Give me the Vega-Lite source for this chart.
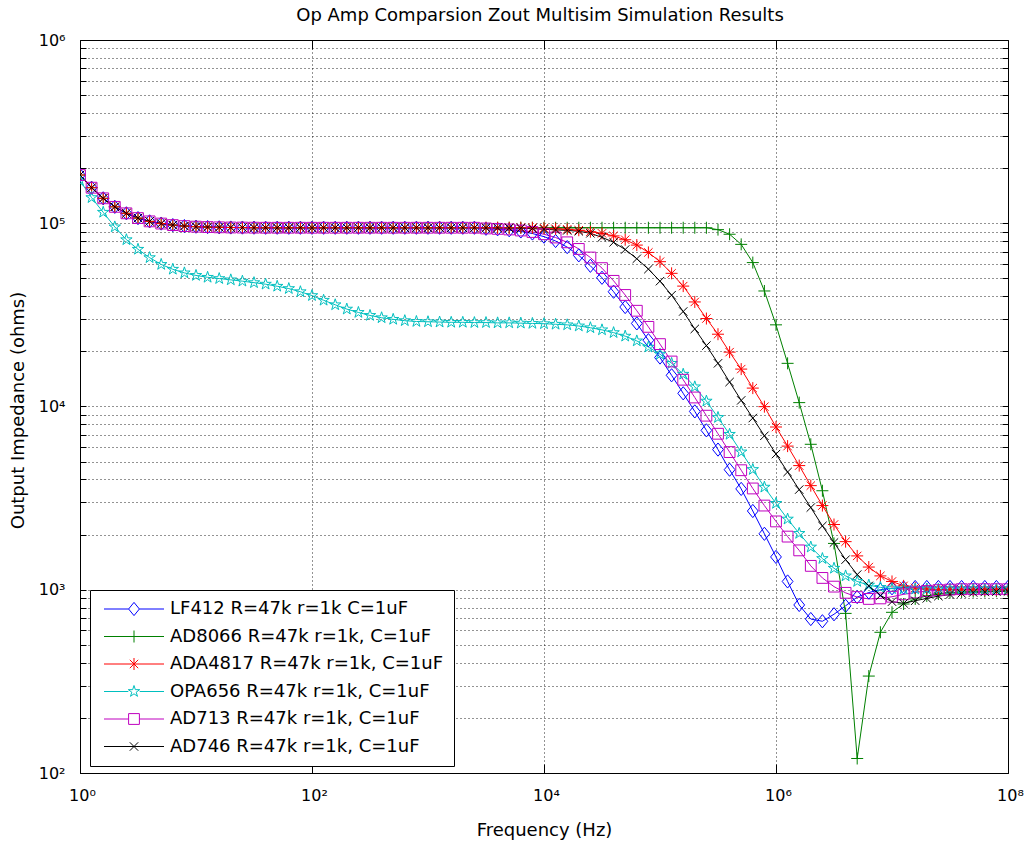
{
"$schema": "https://vega.github.io/schema/vega-lite/v6.json",
"width": 928, "height": 733,
"autosize": {"type": "none"},
"padding": {"left": 80, "top": 40, "right": 18, "bottom": 73},
"background": "#ffffff",
"title": {"text": "Op Amp Comparsion Zout Multisim Simulation Results", "font": "DejaVu Sans", "fontSize": 18, "fontWeight": "normal", "color": "#000000", "anchor": "middle", "frame": "group", "baseline": "alphabetic", "offset": 17, "dx": -4, "dy": 24},
"config": {"view": {"stroke": null}},
"data": {"values": [
{"s":"LF412","f":1,"z":183300},{"s":"LF412","f":1.259,"z":156300},{"s":"LF412","f":1.585,"z":136800},{"s":"LF412","f":1.995,"z":122900},{"s":"LF412","f":2.512,"z":113300},{"s":"LF412","f":3.162,"z":106700},{"s":"LF412","f":3.981,"z":102400},{"s":"LF412","f":5.012,"z":99600},{"s":"LF412","f":6.31,"z":97700},{"s":"LF412","f":7.943,"z":96500},
{"s":"LF412","f":10,"z":95800},{"s":"LF412","f":12.59,"z":95300},{"s":"LF412","f":15.85,"z":95000},{"s":"LF412","f":19.95,"z":94800},{"s":"LF412","f":25.12,"z":94700},{"s":"LF412","f":31.62,"z":94600},{"s":"LF412","f":39.81,"z":94500},{"s":"LF412","f":50.12,"z":94500},{"s":"LF412","f":63.1,"z":94500},{"s":"LF412","f":79.43,"z":94500},
{"s":"LF412","f":100,"z":94500},{"s":"LF412","f":125.9,"z":94500},{"s":"LF412","f":158.5,"z":94500},{"s":"LF412","f":199.5,"z":94500},{"s":"LF412","f":251.2,"z":94500},{"s":"LF412","f":316.2,"z":94500},{"s":"LF412","f":398.1,"z":94500},{"s":"LF412","f":501.2,"z":94500},{"s":"LF412","f":631,"z":94500},{"s":"LF412","f":794.3,"z":94500},
{"s":"LF412","f":1000,"z":94500},{"s":"LF412","f":1259,"z":94500},{"s":"LF412","f":1585,"z":94500},{"s":"LF412","f":1995,"z":94500},{"s":"LF412","f":2512,"z":94500},{"s":"LF412","f":3162,"z":93300},{"s":"LF412","f":3981,"z":92700},{"s":"LF412","f":5012,"z":91600},{"s":"LF412","f":6310,"z":90200},{"s":"LF412","f":7943,"z":87900},
{"s":"LF412","f":10000,"z":84500},{"s":"LF412","f":12590,"z":80000},{"s":"LF412","f":15850,"z":74100},{"s":"LF412","f":19950,"z":66800},{"s":"LF412","f":25120,"z":58600},{"s":"LF412","f":31620,"z":50400},{"s":"LF412","f":39810,"z":42300},{"s":"LF412","f":50120,"z":34900},{"s":"LF412","f":63100,"z":28400},{"s":"LF412","f":79430,"z":23000},
{"s":"LF412","f":100000,"z":18500},{"s":"LF412","f":125900,"z":14800},{"s":"LF412","f":158500,"z":11800},{"s":"LF412","f":199500,"z":9400},{"s":"LF412","f":251200,"z":7410},{"s":"LF412","f":316200,"z":5820},{"s":"LF412","f":398100,"z":4520},{"s":"LF412","f":501200,"z":3550},{"s":"LF412","f":631000,"z":2690},{"s":"LF412","f":794300,"z":2020},
{"s":"LF412","f":1000000,"z":1510},{"s":"LF412","f":1259000,"z":1110},{"s":"LF412","f":1585000,"z":826},{"s":"LF412","f":1995000,"z":692},{"s":"LF412","f":2512000,"z":673},{"s":"LF412","f":3162000,"z":735},{"s":"LF412","f":3981000,"z":817},{"s":"LF412","f":5012000,"z":912},{"s":"LF412","f":6310000,"z":966},{"s":"LF412","f":7943000,"z":1000},
{"s":"LF412","f":10000000,"z":1019},{"s":"LF412","f":12590000,"z":1028},{"s":"LF412","f":15850000,"z":1035},{"s":"LF412","f":19950000,"z":1035},{"s":"LF412","f":25120000,"z":1035},{"s":"LF412","f":31620000,"z":1035},{"s":"LF412","f":39810000,"z":1035},{"s":"LF412","f":50120000,"z":1035},{"s":"LF412","f":63100000,"z":1035},{"s":"LF412","f":79430000,"z":1035},{"s":"LF412","f":100000000,"z":1035},

{"s":"AD8066","f":1,"z":183300},{"s":"AD8066","f":1.259,"z":156300},{"s":"AD8066","f":1.585,"z":136800},{"s":"AD8066","f":1.995,"z":122900},{"s":"AD8066","f":2.512,"z":113300},{"s":"AD8066","f":3.162,"z":106700},{"s":"AD8066","f":3.981,"z":102400},{"s":"AD8066","f":5.012,"z":99600},{"s":"AD8066","f":6.31,"z":97700},{"s":"AD8066","f":7.943,"z":96500},
{"s":"AD8066","f":10,"z":95800},{"s":"AD8066","f":12.59,"z":95300},{"s":"AD8066","f":15.85,"z":95000},{"s":"AD8066","f":19.95,"z":94800},{"s":"AD8066","f":25.12,"z":94700},{"s":"AD8066","f":31.62,"z":94600},{"s":"AD8066","f":39.81,"z":94500},{"s":"AD8066","f":50.12,"z":94500},{"s":"AD8066","f":63.1,"z":94500},{"s":"AD8066","f":79.43,"z":94500},
{"s":"AD8066","f":100,"z":94500},{"s":"AD8066","f":125.9,"z":94500},{"s":"AD8066","f":158.5,"z":94500},{"s":"AD8066","f":199.5,"z":94500},{"s":"AD8066","f":251.2,"z":94500},{"s":"AD8066","f":316.2,"z":94500},{"s":"AD8066","f":398.1,"z":94500},{"s":"AD8066","f":501.2,"z":94500},{"s":"AD8066","f":631,"z":94500},{"s":"AD8066","f":794.3,"z":94500},
{"s":"AD8066","f":1000,"z":94500},{"s":"AD8066","f":1259,"z":94500},{"s":"AD8066","f":1585,"z":94500},{"s":"AD8066","f":1995,"z":94500},{"s":"AD8066","f":2512,"z":94500},{"s":"AD8066","f":3162,"z":94500},{"s":"AD8066","f":3981,"z":94500},{"s":"AD8066","f":5012,"z":94500},{"s":"AD8066","f":6310,"z":94500},{"s":"AD8066","f":7943,"z":94500},
{"s":"AD8066","f":10000,"z":94500},{"s":"AD8066","f":12590,"z":94500},{"s":"AD8066","f":15850,"z":94500},{"s":"AD8066","f":19950,"z":94500},{"s":"AD8066","f":25120,"z":94500},{"s":"AD8066","f":31620,"z":94500},{"s":"AD8066","f":39810,"z":94500},{"s":"AD8066","f":50120,"z":94500},{"s":"AD8066","f":63100,"z":94500},{"s":"AD8066","f":79430,"z":94500},
{"s":"AD8066","f":100000,"z":94500},{"s":"AD8066","f":125900,"z":94500},{"s":"AD8066","f":158500,"z":94500},{"s":"AD8066","f":199500,"z":94500},{"s":"AD8066","f":251200,"z":94500},{"s":"AD8066","f":316200,"z":92300},{"s":"AD8066","f":398100,"z":87100},{"s":"AD8066","f":501200,"z":76700},{"s":"AD8066","f":631000,"z":61000},{"s":"AD8066","f":794300,"z":42700},
{"s":"AD8066","f":1000000,"z":27900},{"s":"AD8066","f":1259000,"z":17200},{"s":"AD8066","f":1585000,"z":10500},{"s":"AD8066","f":1995000,"z":6220},{"s":"AD8066","f":2512000,"z":3470},{"s":"AD8066","f":3162000,"z":1790},{"s":"AD8066","f":3981000,"z":743},{"s":"AD8066","f":5012000,"z":120},{"s":"AD8066","f":6310000,"z":338},{"s":"AD8066","f":7943000,"z":586},
{"s":"AD8066","f":10000000,"z":753},{"s":"AD8066","f":12590000,"z":836},{"s":"AD8066","f":15850000,"z":891},{"s":"AD8066","f":19950000,"z":925},{"s":"AD8066","f":25120000,"z":948},{"s":"AD8066","f":31620000,"z":964},{"s":"AD8066","f":39810000,"z":973},{"s":"AD8066","f":50120000,"z":977},{"s":"AD8066","f":63100000,"z":979},{"s":"AD8066","f":79430000,"z":982},{"s":"AD8066","f":100000000,"z":982},

{"s":"ADA4817","f":1,"z":183300},{"s":"ADA4817","f":1.259,"z":156300},{"s":"ADA4817","f":1.585,"z":136800},{"s":"ADA4817","f":1.995,"z":122900},{"s":"ADA4817","f":2.512,"z":113300},{"s":"ADA4817","f":3.162,"z":106700},{"s":"ADA4817","f":3.981,"z":102400},{"s":"ADA4817","f":5.012,"z":99600},{"s":"ADA4817","f":6.31,"z":97700},{"s":"ADA4817","f":7.943,"z":96500},
{"s":"ADA4817","f":10,"z":95800},{"s":"ADA4817","f":12.59,"z":95300},{"s":"ADA4817","f":15.85,"z":95000},{"s":"ADA4817","f":19.95,"z":94800},{"s":"ADA4817","f":25.12,"z":94700},{"s":"ADA4817","f":31.62,"z":94600},{"s":"ADA4817","f":39.81,"z":94500},{"s":"ADA4817","f":50.12,"z":94500},{"s":"ADA4817","f":63.1,"z":94500},{"s":"ADA4817","f":79.43,"z":94500},
{"s":"ADA4817","f":100,"z":94500},{"s":"ADA4817","f":125.9,"z":94500},{"s":"ADA4817","f":158.5,"z":94500},{"s":"ADA4817","f":199.5,"z":94500},{"s":"ADA4817","f":251.2,"z":94500},{"s":"ADA4817","f":316.2,"z":94500},{"s":"ADA4817","f":398.1,"z":94500},{"s":"ADA4817","f":501.2,"z":94500},{"s":"ADA4817","f":631,"z":94500},{"s":"ADA4817","f":794.3,"z":94500},
{"s":"ADA4817","f":1000,"z":94500},{"s":"ADA4817","f":1259,"z":94500},{"s":"ADA4817","f":1585,"z":94500},{"s":"ADA4817","f":1995,"z":94500},{"s":"ADA4817","f":2512,"z":94500},{"s":"ADA4817","f":3162,"z":94500},{"s":"ADA4817","f":3981,"z":94500},{"s":"ADA4817","f":5012,"z":94500},{"s":"ADA4817","f":6310,"z":94500},{"s":"ADA4817","f":7943,"z":94500},
{"s":"ADA4817","f":10000,"z":94000},{"s":"ADA4817","f":12590,"z":93300},{"s":"ADA4817","f":15850,"z":92700},{"s":"ADA4817","f":19950,"z":91600},{"s":"ADA4817","f":25120,"z":89900},{"s":"ADA4817","f":31620,"z":88100},{"s":"ADA4817","f":39810,"z":85300},{"s":"ADA4817","f":50120,"z":81300},{"s":"ADA4817","f":63100,"z":76000},{"s":"ADA4817","f":79430,"z":69300},
{"s":"ADA4817","f":100000,"z":61700},{"s":"ADA4817","f":125900,"z":53300},{"s":"ADA4817","f":158500,"z":45400},{"s":"ADA4817","f":199500,"z":37200},{"s":"ADA4817","f":251200,"z":30200},{"s":"ADA4817","f":316200,"z":24800},{"s":"ADA4817","f":398100,"z":19800},{"s":"ADA4817","f":501200,"z":16000},{"s":"ADA4817","f":631000,"z":12600},{"s":"ADA4817","f":794300,"z":9980},
{"s":"ADA4817","f":1000000,"z":7730},{"s":"ADA4817","f":1259000,"z":6080},{"s":"ADA4817","f":1585000,"z":4760},{"s":"ADA4817","f":1995000,"z":3700},{"s":"ADA4817","f":2512000,"z":2880},{"s":"ADA4817","f":3162000,"z":2270},{"s":"ADA4817","f":3981000,"z":1830},{"s":"ADA4817","f":5012000,"z":1530},{"s":"ADA4817","f":6310000,"z":1330},{"s":"ADA4817","f":7943000,"z":1190},
{"s":"ADA4817","f":10000000,"z":1110},{"s":"ADA4817","f":12590000,"z":1050},{"s":"ADA4817","f":15850000,"z":1023},{"s":"ADA4817","f":19950000,"z":1009},{"s":"ADA4817","f":25120000,"z":1002},{"s":"ADA4817","f":31620000,"z":1000},{"s":"ADA4817","f":39810000,"z":1000},{"s":"ADA4817","f":50120000,"z":1000},{"s":"ADA4817","f":63100000,"z":1000},{"s":"ADA4817","f":79430000,"z":1000},{"s":"ADA4817","f":100000000,"z":1000},

{"s":"OPA656","f":1,"z":170600},{"s":"OPA656","f":1.259,"z":138000},{"s":"OPA656","f":1.585,"z":114800},{"s":"OPA656","f":1.995,"z":95500},{"s":"OPA656","f":2.512,"z":81300},{"s":"OPA656","f":3.162,"z":72100},{"s":"OPA656","f":3.981,"z":64900},{"s":"OPA656","f":5.012,"z":59600},{"s":"OPA656","f":6.31,"z":56100},{"s":"OPA656","f":7.943,"z":53600},
{"s":"OPA656","f":10,"z":51900},{"s":"OPA656","f":12.59,"z":50700},{"s":"OPA656","f":15.85,"z":49900},{"s":"OPA656","f":19.95,"z":49100},{"s":"OPA656","f":25.12,"z":48300},{"s":"OPA656","f":31.62,"z":47400},{"s":"OPA656","f":39.81,"z":46500},{"s":"OPA656","f":50.12,"z":45300},{"s":"OPA656","f":63.1,"z":44000},{"s":"OPA656","f":79.43,"z":42300},
{"s":"OPA656","f":100,"z":40300},{"s":"OPA656","f":125.9,"z":38000},{"s":"OPA656","f":158.5,"z":35900},{"s":"OPA656","f":199.5,"z":34000},{"s":"OPA656","f":251.2,"z":32600},{"s":"OPA656","f":316.2,"z":31400},{"s":"OPA656","f":398.1,"z":30500},{"s":"OPA656","f":501.2,"z":29900},{"s":"OPA656","f":631,"z":29400},{"s":"OPA656","f":794.3,"z":29100},
{"s":"OPA656","f":1000,"z":29000},{"s":"OPA656","f":1259,"z":28900},{"s":"OPA656","f":1585,"z":28800},{"s":"OPA656","f":1995,"z":28800},{"s":"OPA656","f":2512,"z":28700},{"s":"OPA656","f":3162,"z":28700},{"s":"OPA656","f":3981,"z":28600},{"s":"OPA656","f":5012,"z":28600},{"s":"OPA656","f":6310,"z":28500},{"s":"OPA656","f":7943,"z":28400},
{"s":"OPA656","f":10000,"z":28300},{"s":"OPA656","f":12590,"z":28100},{"s":"OPA656","f":15850,"z":27900},{"s":"OPA656","f":19950,"z":27500},{"s":"OPA656","f":25120,"z":26900},{"s":"OPA656","f":31620,"z":26200},{"s":"OPA656","f":39810,"z":25300},{"s":"OPA656","f":50120,"z":24200},{"s":"OPA656","f":63100,"z":22800},{"s":"OPA656","f":79430,"z":21100},
{"s":"OPA656","f":100000,"z":19300},{"s":"OPA656","f":125900,"z":17200},{"s":"OPA656","f":158500,"z":15000},{"s":"OPA656","f":199500,"z":12800},{"s":"OPA656","f":251200,"z":10700},{"s":"OPA656","f":316200,"z":8710},{"s":"OPA656","f":398100,"z":7050},{"s":"OPA656","f":501200,"z":5650},{"s":"OPA656","f":631000,"z":4530},{"s":"OPA656","f":794300,"z":3630},
{"s":"OPA656","f":1000000,"z":2960},{"s":"OPA656","f":1259000,"z":2430},{"s":"OPA656","f":1585000,"z":2030},{"s":"OPA656","f":1995000,"z":1710},{"s":"OPA656","f":2512000,"z":1480},{"s":"OPA656","f":3162000,"z":1310},{"s":"OPA656","f":3981000,"z":1190},{"s":"OPA656","f":5012000,"z":1110},{"s":"OPA656","f":6310000,"z":1060},{"s":"OPA656","f":7943000,"z":1030},
{"s":"OPA656","f":10000000,"z":1014},{"s":"OPA656","f":12590000,"z":1009},{"s":"OPA656","f":15850000,"z":1009},{"s":"OPA656","f":19950000,"z":1009},{"s":"OPA656","f":25120000,"z":1009},{"s":"OPA656","f":31620000,"z":1009},{"s":"OPA656","f":39810000,"z":1009},{"s":"OPA656","f":50120000,"z":1009},{"s":"OPA656","f":63100000,"z":1009},{"s":"OPA656","f":79430000,"z":1009},{"s":"OPA656","f":100000000,"z":1009},

{"s":"AD713","f":1,"z":183300},{"s":"AD713","f":1.259,"z":156300},{"s":"AD713","f":1.585,"z":136800},{"s":"AD713","f":1.995,"z":122900},{"s":"AD713","f":2.512,"z":113300},{"s":"AD713","f":3.162,"z":106700},{"s":"AD713","f":3.981,"z":102400},{"s":"AD713","f":5.012,"z":99600},{"s":"AD713","f":6.31,"z":97700},{"s":"AD713","f":7.943,"z":96500},
{"s":"AD713","f":10,"z":95800},{"s":"AD713","f":12.59,"z":95300},{"s":"AD713","f":15.85,"z":95000},{"s":"AD713","f":19.95,"z":94800},{"s":"AD713","f":25.12,"z":94700},{"s":"AD713","f":31.62,"z":94600},{"s":"AD713","f":39.81,"z":94500},{"s":"AD713","f":50.12,"z":94500},{"s":"AD713","f":63.1,"z":94500},{"s":"AD713","f":79.43,"z":94500},
{"s":"AD713","f":100,"z":94500},{"s":"AD713","f":125.9,"z":94500},{"s":"AD713","f":158.5,"z":94500},{"s":"AD713","f":199.5,"z":94500},{"s":"AD713","f":251.2,"z":94500},{"s":"AD713","f":316.2,"z":94500},{"s":"AD713","f":398.1,"z":94500},{"s":"AD713","f":501.2,"z":94500},{"s":"AD713","f":631,"z":94500},{"s":"AD713","f":794.3,"z":94500},
{"s":"AD713","f":1000,"z":94500},{"s":"AD713","f":1259,"z":94500},{"s":"AD713","f":1585,"z":94500},{"s":"AD713","f":1995,"z":94500},{"s":"AD713","f":2512,"z":94500},{"s":"AD713","f":3162,"z":93700},{"s":"AD713","f":3981,"z":93200},{"s":"AD713","f":5012,"z":92500},{"s":"AD713","f":6310,"z":91300},{"s":"AD713","f":7943,"z":89600},
{"s":"AD713","f":10000,"z":87100},{"s":"AD713","f":12590,"z":83600},{"s":"AD713","f":15850,"z":78700},{"s":"AD713","f":19950,"z":72400},{"s":"AD713","f":25120,"z":65000},{"s":"AD713","f":31620,"z":56900},{"s":"AD713","f":39810,"z":48500},{"s":"AD713","f":50120,"z":40600},{"s":"AD713","f":63100,"z":33300},{"s":"AD713","f":79430,"z":27200},
{"s":"AD713","f":100000,"z":21900},{"s":"AD713","f":125900,"z":17600},{"s":"AD713","f":158500,"z":14000},{"s":"AD713","f":199500,"z":11200},{"s":"AD713","f":251200,"z":8910},{"s":"AD713","f":316200,"z":7100},{"s":"AD713","f":398100,"z":5640},{"s":"AD713","f":501200,"z":4490},{"s":"AD713","f":631000,"z":3570},{"s":"AD713","f":794300,"z":2880},
{"s":"AD713","f":1000000,"z":2360},{"s":"AD713","f":1259000,"z":1950},{"s":"AD713","f":1585000,"z":1640},{"s":"AD713","f":1995000,"z":1350},{"s":"AD713","f":2512000,"z":1160},{"s":"AD713","f":3162000,"z":1040},{"s":"AD713","f":3981000,"z":962},{"s":"AD713","f":5012000,"z":912},{"s":"AD713","f":6310000,"z":891},{"s":"AD713","f":7943000,"z":897},
{"s":"AD713","f":10000000,"z":916},{"s":"AD713","f":12590000,"z":944},{"s":"AD713","f":15850000,"z":966},{"s":"AD713","f":19950000,"z":984},{"s":"AD713","f":25120000,"z":995},{"s":"AD713","f":31620000,"z":1002},{"s":"AD713","f":39810000,"z":1007},{"s":"AD713","f":50120000,"z":1007},{"s":"AD713","f":63100000,"z":1007},{"s":"AD713","f":79430000,"z":1007},{"s":"AD713","f":100000000,"z":1007},

{"s":"AD746","f":1,"z":183300},{"s":"AD746","f":1.259,"z":156300},{"s":"AD746","f":1.585,"z":136800},{"s":"AD746","f":1.995,"z":122900},{"s":"AD746","f":2.512,"z":113300},{"s":"AD746","f":3.162,"z":106700},{"s":"AD746","f":3.981,"z":102400},{"s":"AD746","f":5.012,"z":99600},{"s":"AD746","f":6.31,"z":97700},{"s":"AD746","f":7.943,"z":96500},
{"s":"AD746","f":10,"z":95800},{"s":"AD746","f":12.59,"z":95300},{"s":"AD746","f":15.85,"z":95000},{"s":"AD746","f":19.95,"z":94800},{"s":"AD746","f":25.12,"z":94700},{"s":"AD746","f":31.62,"z":94600},{"s":"AD746","f":39.81,"z":94500},{"s":"AD746","f":50.12,"z":94500},{"s":"AD746","f":63.1,"z":94500},{"s":"AD746","f":79.43,"z":94500},
{"s":"AD746","f":100,"z":94500},{"s":"AD746","f":125.9,"z":94500},{"s":"AD746","f":158.5,"z":94500},{"s":"AD746","f":199.5,"z":94500},{"s":"AD746","f":251.2,"z":94500},{"s":"AD746","f":316.2,"z":94500},{"s":"AD746","f":398.1,"z":94500},{"s":"AD746","f":501.2,"z":94500},{"s":"AD746","f":631,"z":94500},{"s":"AD746","f":794.3,"z":94500},
{"s":"AD746","f":1000,"z":94500},{"s":"AD746","f":1259,"z":94500},{"s":"AD746","f":1585,"z":94500},{"s":"AD746","f":1995,"z":94500},{"s":"AD746","f":2512,"z":94500},{"s":"AD746","f":3162,"z":94500},{"s":"AD746","f":3981,"z":94300},{"s":"AD746","f":5012,"z":94100},{"s":"AD746","f":6310,"z":93800},{"s":"AD746","f":7943,"z":93500},
{"s":"AD746","f":10000,"z":92700},{"s":"AD746","f":12590,"z":92000},{"s":"AD746","f":15850,"z":91400},{"s":"AD746","f":19950,"z":90400},{"s":"AD746","f":25120,"z":88100},{"s":"AD746","f":31620,"z":83800},{"s":"AD746","f":39810,"z":78700},{"s":"AD746","f":50120,"z":71900},{"s":"AD746","f":63100,"z":64000},{"s":"AD746","f":79430,"z":56200},
{"s":"AD746","f":100000,"z":48300},{"s":"AD746","f":125900,"z":40500},{"s":"AD746","f":158500,"z":33000},{"s":"AD746","f":199500,"z":26500},{"s":"AD746","f":251200,"z":21500},{"s":"AD746","f":316200,"z":17200},{"s":"AD746","f":398100,"z":13600},{"s":"AD746","f":501200,"z":10800},{"s":"AD746","f":631000,"z":8650},{"s":"AD746","f":794300,"z":6920},
{"s":"AD746","f":1000000,"z":5500},{"s":"AD746","f":1259000,"z":4390},{"s":"AD746","f":1585000,"z":3520},{"s":"AD746","f":1995000,"z":2810},{"s":"AD746","f":2512000,"z":2230},{"s":"AD746","f":3162000,"z":1810},{"s":"AD746","f":3981000,"z":1460},{"s":"AD746","f":5012000,"z":1210},{"s":"AD746","f":6310000,"z":1050},{"s":"AD746","f":7943000,"z":931},
{"s":"AD746","f":10000000,"z":861},{"s":"AD746","f":12590000,"z":843},{"s":"AD746","f":15850000,"z":871},{"s":"AD746","f":19950000,"z":897},{"s":"AD746","f":25120000,"z":923},{"s":"AD746","f":31620000,"z":942},{"s":"AD746","f":39810000,"z":955},{"s":"AD746","f":50120000,"z":966},{"s":"AD746","f":63100000,"z":973},{"s":"AD746","f":79430000,"z":977},{"s":"AD746","f":100000000,"z":979}
]},
"layer": [
{
"mark": {"type": "line", "strokeWidth": 1, "clip": true},
"encoding": {
"x": {"field": "f", "type": "quantitative", "scale": {"type": "log", "domain": [1, 100000000], "nice": false},
 "axis": {"orient": "bottom", "values": [1, 100, 10000, 1000000, 100000000],
  "labelExpr": "datum.value < 5 ? '10⁰' : datum.value < 500 ? '10²' : datum.value < 50000 ? '10⁴' : datum.value < 5000000 ? '10⁶' : '10⁸'",
  "labelFont": "DejaVu Sans", "labelFontSize": 16, "labelColor": "#000000", "labelPadding": 23, "labelOffset": 2, "labelOverlap": false, "labelFlush": false, "labelBound": false,
  "tickSize": -9, "tickColor": "#000000", "tickWidth": 1, "domainColor": "#000000", "domainWidth": 1,
  "grid": true, "gridColor": "#000000", "gridDash": [1, 3], "gridWidth": 1, "gridOpacity": 0.85,
  "title": "Frequency (Hz)", "titleFont": "DejaVu Sans", "titleFontSize": 18, "titleFontWeight": "normal", "titleColor": "#000000", "titleBaseline": "middle", "titleY": 57}},
"y": {"field": "z", "type": "quantitative", "scale": {"type": "log", "domain": [100, 1000000], "nice": false},
 "axis": {"orient": "left", "values": [100,200,300,400,500,600,700,800,900,1000,2000,3000,4000,5000,6000,7000,8000,9000,10000,20000,30000,40000,50000,60000,70000,80000,90000,100000,200000,300000,400000,500000,600000,700000,800000,900000,1000000],
  "labelExpr": "datum.value == 100 ? '10²' : datum.value == 1000 ? '10³' : datum.value == 10000 ? '10⁴' : datum.value == 100000 ? '10⁵' : datum.value == 1000000 ? '10⁶' : ''",
  "labelFont": "DejaVu Sans", "labelFontSize": 16, "labelColor": "#000000", "labelPadding": 21, "labelOverlap": false, "labelFlush": false, "labelBound": false,
  "tickSize": -6, "tickColor": "#000000", "tickWidth": 1, "domainColor": "#000000", "domainWidth": 1,
  "grid": true, "gridColor": "#000000", "gridDash": [1, 3], "gridWidth": 1, "gridOpacity": 0.85,
  "title": "Output Impedance (ohms)", "titleFont": "DejaVu Sans", "titleFontSize": 18, "titleFontWeight": "normal", "titleColor": "#000000", "titleBaseline": "middle", "titleX": -62, "titleY": 370}},
"color": {"field": "s", "type": "nominal",
 "scale": {"domain": ["LF412", "AD8066", "ADA4817", "OPA656", "AD713", "AD746"], "range": ["#0000ff", "#008000", "#ff0000", "#00bfbf", "#bf00bf", "#000000"]},
 "legend": {"orient": "none", "legendX": 10, "legendY": 550, "title": null, "padding": 10, "rowPadding": 9.5,
  "symbolSize": 144, "symbolStrokeWidth": 1, "symbolOffset": 25, "labelOffset": 27,
  "labelFont": "DejaVu Sans", "labelFontSize": 18, "labelColor": "#000000", "labelLimit": 600,
  "strokeColor": "#000000", "fillColor": "#ffffff",
  "labelExpr": "datum.label == 'LF412' ? 'LF412 R=47k r=1k C=1uF' : datum.label + ' R=47k r=1k, C=1uF'",
  "encoding": {"symbols": {
   "fill": {"value": "transparent"}, "strokeWidth": {"value": 1},
   "shape": {"condition": [
     {"test": "datum.value === 'LF412'", "value": "M-5,0L-0.9,0M0.9,0L5,0M0,-1.1L0.9,0L0,1.1L-0.9,0Z"},
     {"test": "datum.value === 'AD8066'", "value": "M-5,0L5,0M0,-1L0,1"},
     {"test": "datum.value === 'ADA4817'", "value": "M-5,0L5,0M0,-1L0,1M-0.7,-0.7L0.7,0.7M-0.7,0.7L0.7,-0.7"},
     {"test": "datum.value === 'OPA656'", "value": "M-5,0L-0.95,0M0.95,0L5,0M0,-1L0.225,-0.309L0.951,-0.309L0.363,0.118L0.588,0.809L0,0.382L-0.588,0.809L-0.363,0.118L-0.951,-0.309L-0.225,-0.309Z"},
     {"test": "datum.value === 'AD713'", "value": "M-5,0L-0.9,0M0.9,0L5,0M-0.9,-0.9L0.9,-0.9L0.9,0.9L-0.9,0.9Z"}],
    "value": "M-5,0L5,0M-0.7,-0.7L0.7,0.7M-0.7,0.7L0.7,-0.7"}
  }}
 }
}
}
},
{
"mark": {"type": "point", "filled": false, "strokeWidth": 1, "size": 144, "opacity": 1, "clip": true},
"encoding": {
"x": {"field": "f", "type": "quantitative", "scale": {"type": "log", "domain": [1, 100000000], "nice": false},
 "axis": {"orient": "top", "values": [100, 10000, 1000000], "labels": false, "grid": false, "tickSize": -9, "tickColor": "#000000", "domainColor": "#000000", "title": null}},
"y": {"field": "z", "type": "quantitative", "scale": {"type": "log", "domain": [100, 1000000], "nice": false},
 "axis": {"orient": "right", "values": [100,200,300,400,500,600,700,800,900,1000,2000,3000,4000,5000,6000,7000,8000,9000,10000,20000,30000,40000,50000,60000,70000,80000,90000,100000,200000,300000,400000,500000,600000,700000,800000,900000,1000000], "labels": false, "grid": false, "tickSize": -6, "tickColor": "#000000", "domainColor": "#000000", "title": null}},
"color": {"field": "s", "type": "nominal", "legend": null,
 "scale": {"domain": ["LF412", "AD8066", "ADA4817", "OPA656", "AD713", "AD746"], "range": ["#0000ff", "#008000", "#ff0000", "#00bfbf", "#bf00bf", "#000000"]}},
"shape": {"field": "s", "type": "nominal", "legend": null,
 "scale": {"domain": ["LF412", "AD8066", "ADA4817", "OPA656", "AD713", "AD746"], "range": [
  "M0,-1.1L0.9,0L0,1.1L-0.9,0Z",
  "M-1,0L1,0M0,-1L0,1",
  "M-1,0L1,0M0,-1L0,1M-0.7,-0.7L0.7,0.7M-0.7,0.7L0.7,-0.7",
  "M0,-1L0.225,-0.309L0.951,-0.309L0.363,0.118L0.588,0.809L0,0.382L-0.588,0.809L-0.363,0.118L-0.951,-0.309L-0.225,-0.309Z",
  "M-0.9,-0.9L0.9,-0.9L0.9,0.9L-0.9,0.9Z",
  "M-0.7,-0.7L0.7,0.7M-0.7,0.7L0.7,-0.7"]}}
}
}
],
"resolve": {"axis": {"x": "independent", "y": "independent"}, "scale": {"color": "independent"}, "legend": {"color": "independent"}}
}
